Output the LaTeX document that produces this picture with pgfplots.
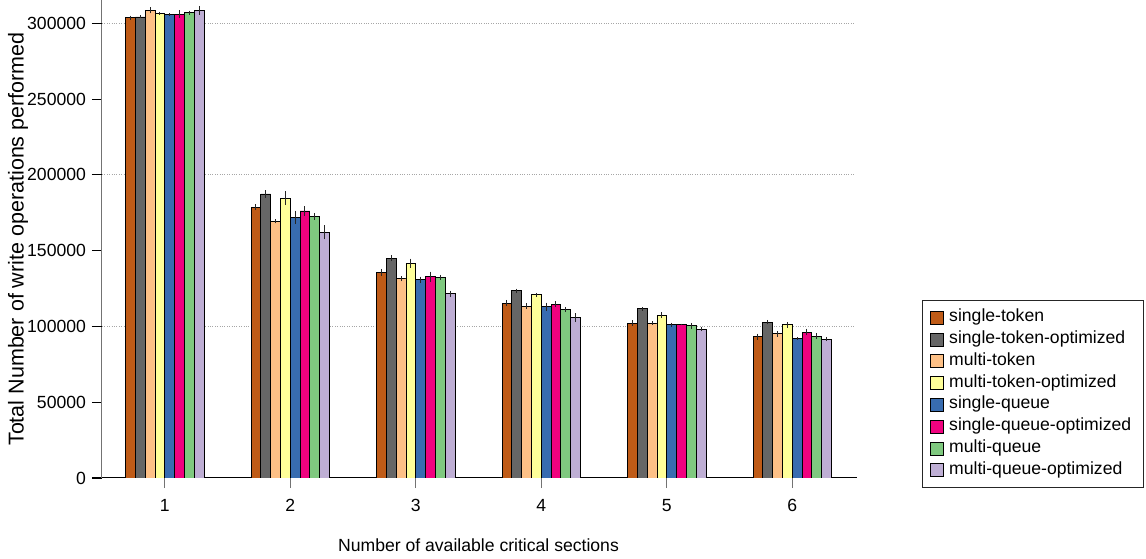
\documentclass[border=0pt]{standalone}
\usepackage{fontspec}
\setmainfont{Liberation Sans}
\usepackage{pgfplots}
\pgfplotsset{compat=1.18}
\definecolor{cST}{HTML}{BF5B17}
\definecolor{cSTO}{HTML}{666666}
\definecolor{cMT}{HTML}{FDC086}
\definecolor{cMTO}{HTML}{FFFF99}
\definecolor{cSQ}{HTML}{386CB0}
\definecolor{cSQO}{HTML}{F0027F}
\definecolor{cMQ}{HTML}{7FC97F}
\definecolor{cMQO}{HTML}{BEAED4}
\pgfplotsset{sq/.style={legend image code/.code={\draw[##1,draw=black,line width=0.8pt] (0pt,-6.5pt) rectangle (13pt,6.5pt);}}}
\begin{document}
\fontsize{17.6}{20}\selectfont
\begin{tikzpicture}
\useasboundingbox (0,0) rectangle (1146pt,559pt);
\begin{axis}[
  at={(102pt,81pt)}, anchor=south west,
  scale only axis, width=753pt, height=478pt,
  font=\fontsize{17.6}{20}\selectfont,
  ybar=0pt, bar width=9.8pt,
  xmin=0.5, xmax=6.5, ymin=0, ymax=315400,
  axis x line*=bottom, axis y line*=left,
  x axis line style={black, line width=1pt, shorten <=-10pt, shorten >=-2pt, -},
  y axis line style={black!55, line width=1pt, -},
  xtick={1,...,6}, ytick={0,50000,...,300000},
  tick align=outside, major tick length=10pt,
  xtick style={black!55, line width=1pt},
  ytick style={black, line width=0.8pt},
  xticklabel style={yshift=-5pt},
  scaled y ticks=false,
  /pgf/number format/fixed,
  /pgf/number format/precision=0,
  /pgf/number format/assume math mode=true,
  /pgf/number format/1000 sep={},
  extra y ticks={100000,200000,300000},
  extra y tick labels={},
  extra y tick style={grid=major, major grid style={black!35, dotted, line width=0.9pt}},
  ylabel={Total Number of write operations performed},
  ylabel style={at={(axis description cs:-0.1116,0.5)}, anchor=center, font=\fontsize{21.5}{24}\selectfont},
  xlabel={Number of available critical sections},
  xlabel style={at={(axis description cs:0.5,-0.140)}, anchor=center},
  legend style={at={(1.089,-0.021)}, anchor=south west, draw=black!85, line width=0.8pt,
    font=\fontsize{17.6}{20}\selectfont, inner xsep=8pt, inner ysep=7pt, row sep=1pt,
    /tikz/every odd column/.append style={column sep=3.5pt},
    nodes={inner sep=1.5pt, text height=13pt, text depth=4.8pt, text width=185pt, align=left}},
  legend cell align=left,
  every axis plot/.append style={draw=black, line width=0.9pt},
  error bars/y dir=both, error bars/y explicit,
  error bars/error mark=none,
  error bars/error bar style={black!85, line width=1pt},
]
\addplot[fill=cST, sq] coordinates {(1,303700)+-(0,1400) (2,178700)+-(0,1900) (3,135800)+-(0,2200) (4,115400)+-(0,2200) (5,102200)+-(0,1800) (6,93200)+-(0,2000)};
\addlegendentry{single-token}
\addplot[fill=cSTO, sq] coordinates {(1,304200)+-(0,1000) (2,187400)+-(0,2400) (3,145100)+-(0,2000) (4,123500)+-(0,1500) (5,111600)+-(0,1100) (6,102900)+-(0,1500)};
\addlegendentry{single-token-optimized}
\addplot[fill=cMT, sq] coordinates {(1,308600)+-(0,2000) (2,169400)+-(0,1400) (3,131400)+-(0,1600) (4,113400)+-(0,2000) (5,102200)+-(0,1100) (6,95100)+-(0,2000)};
\addlegendentry{multi-token}
\addplot[fill=cMTO, sq] coordinates {(1,306800)+-(0,1000) (2,184600)+-(0,4600) (3,141800)+-(0,3000) (4,120900)+-(0,1300) (5,107500)+-(0,2000) (6,101100)+-(0,1800)};
\addlegendentry{multi-token-optimized}
\addplot[fill=cSQ, sq] coordinates {(1,305700)+-(0,1000) (2,172100)+-(0,4300) (3,130700)+-(0,2200) (4,113100)+-(0,2600) (5,101100)+-(0,1500) (6,92000)+-(0,900)};
\addlegendentry{single-queue}
\addplot[fill=cSQO, sq] coordinates {(1,306100)+-(0,2400) (2,176200)+-(0,3100) (3,132900)+-(0,3300) (4,114500)+-(0,2000) (5,101300)+-(0,500) (6,96300)+-(0,2200)};
\addlegendentry{single-queue-optimized}
\addplot[fill=cMQ, sq] coordinates {(1,307000)+-(0,1400) (2,172700)+-(0,2200) (3,132500)+-(0,1600) (4,111000)+-(0,1500) (5,100400)+-(0,2000) (6,93600)+-(0,2000)};
\addlegendentry{multi-queue}
\addplot[fill=cMQO, sq] coordinates {(1,308600)+-(0,3000) (2,162200)+-(0,4700) (3,121500)+-(0,2100) (4,105700)+-(0,2900) (5,98200)+-(0,1500) (6,91600)+-(0,1300)};
\addlegendentry{multi-queue-optimized}
\end{axis}
\end{tikzpicture}
\end{document}
